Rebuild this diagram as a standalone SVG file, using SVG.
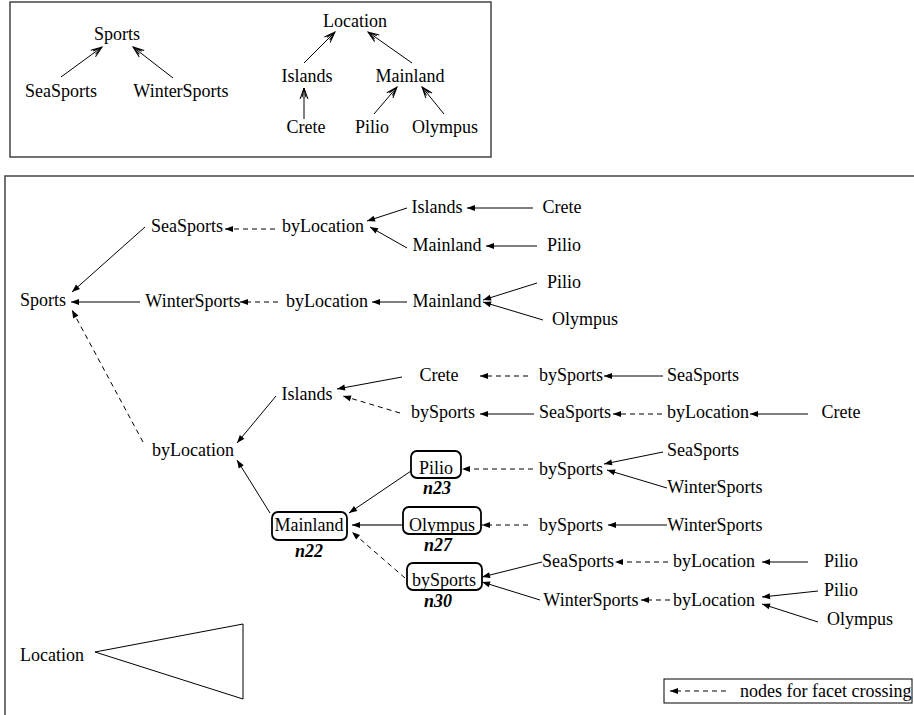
<svg xmlns="http://www.w3.org/2000/svg" width="914" height="715" viewBox="0 0 914 715">
<style>
text{font-family:"Liberation Serif","Times New Roman",serif;font-size:18px;fill:#000;text-anchor:middle}
.lb{font-weight:bold;font-style:italic}
.st{text-anchor:start}
.frame{fill:none;stroke:#444;stroke-width:1.5}
.c{fill:none;stroke:#000;stroke-width:1;marker-end:url(#ah)}
.d{fill:none;stroke:#000;stroke-width:1;stroke-dasharray:5,4;marker-end:url(#ah)}
.o{fill:none;stroke:#000;stroke-width:1;marker-end:url(#oh)}
.box{fill:none;stroke:#000;stroke-width:1.8}
</style>
<defs>
<marker id="ah" markerUnits="userSpaceOnUse" markerWidth="9" markerHeight="7" refX="8" refY="3" orient="auto" overflow="visible">
<path d="M0,0 L8,3 L0,6 z" fill="#000"/>
</marker>
<marker id="oh" markerUnits="userSpaceOnUse" markerWidth="12" markerHeight="10" refX="11" refY="4" orient="auto" overflow="visible">
<path d="M0,0 L11,4 L0,8 M1.5,2 L11,4 L1.5,6" fill="none" stroke="#000" stroke-width="1"/>
</marker>
</defs>

<rect class="frame" x="10" y="2" width="481" height="155"/>
<path class="frame" d="M5,715 V176 H914"/>

<g id="connectors">
<line class="o" x1="61" y1="77" x2="102" y2="47"/>
<line class="o" x1="173" y1="78" x2="133" y2="47"/>
<line class="o" x1="304" y1="63" x2="335" y2="32"/>
<line class="o" x1="412" y1="63" x2="368" y2="32"/>
<line class="o" x1="304" y1="119" x2="304" y2="88"/>
<line class="o" x1="374" y1="114" x2="397" y2="87"/>
<line class="o" x1="444" y1="114" x2="422" y2="87"/>

<line class="c" x1="145" y1="227" x2="72" y2="292"/>
<line class="c" x1="140" y1="302" x2="71" y2="302"/>
<line class="d" x1="143" y1="442" x2="72" y2="310"/>
<line class="d" x1="275" y1="229" x2="225" y2="229"/>
<line class="c" x1="407" y1="208" x2="367" y2="221"/>
<line class="c" x1="407" y1="248" x2="370" y2="227"/>
<line class="c" x1="533" y1="208" x2="467" y2="208"/>
<line class="c" x1="537" y1="246" x2="486" y2="246"/>
<line class="d" x1="278" y1="302" x2="240" y2="302"/>
<line class="c" x1="407" y1="302" x2="372" y2="302"/>
<line class="c" x1="537" y1="283" x2="483" y2="300"/>
<line class="c" x1="543" y1="320" x2="483" y2="302"/>
<line class="c" x1="276" y1="396" x2="237" y2="443"/>
<line class="c" x1="270" y1="513" x2="237" y2="460"/>
<line class="c" x1="402" y1="377" x2="337" y2="389"/>
<line class="d" x1="400" y1="413" x2="343" y2="396"/>
<line class="d" x1="528" y1="376" x2="480" y2="376"/>
<line class="c" x1="663" y1="376" x2="604" y2="376"/>
<line class="c" x1="534" y1="414" x2="480" y2="414"/>
<line class="d" x1="662" y1="414" x2="613" y2="414"/>
<line class="c" x1="808" y1="414" x2="750" y2="414"/>
<line class="c" x1="411" y1="471" x2="349" y2="513"/>
<line class="d" x1="533" y1="469" x2="462" y2="469"/>
<line class="c" x1="663" y1="452" x2="604" y2="464"/>
<line class="c" x1="667" y1="488" x2="607" y2="470"/>
<line class="c" x1="403" y1="525" x2="352" y2="525" style="stroke:#444;stroke-width:1.4"/>
<line class="d" x1="528" y1="525" x2="482" y2="525"/>
<line class="c" x1="667" y1="525" x2="608" y2="525"/>
<line class="d" x1="405" y1="578" x2="352" y2="532"/>
<line class="c" x1="542" y1="562" x2="482" y2="577"/>
<line class="c" x1="540" y1="600" x2="482" y2="582"/>
<line class="d" x1="668" y1="562" x2="615" y2="562"/>
<line class="c" x1="808" y1="562" x2="762" y2="562"/>
<line class="d" x1="670" y1="600" x2="641" y2="600"/>
<line class="c" x1="818" y1="591" x2="762" y2="597"/>
<line class="c" x1="818" y1="622" x2="762" y2="604"/>
</g>

<g id="top-sports">
<text x="117" y="40">Sports</text>
<text x="61" y="97">SeaSports</text>
<text x="181" y="97">WinterSports</text>
</g>
<g id="top-location">
<text x="355" y="27">Location</text>
<text x="307" y="82">Islands</text>
<text x="410" y="82">Mainland</text>
<text x="306" y="133">Crete</text>
<text x="372" y="133">Pilio</text>
<text x="445" y="133">Olympus</text>
</g>

<g id="n-sports"><text x="43" y="306">Sports</text></g>
<g id="n-seasports"><text x="187" y="232">SeaSports</text></g>
<g id="n-byloc1"><text x="323" y="232">byLocation</text></g>
<g id="n-islands1"><text x="437" y="213">Islands</text></g>
<g id="n-crete1"><text x="562" y="213">Crete</text></g>
<g id="n-mainland1"><text x="447" y="251">Mainland</text></g>
<g id="n-pilio1"><text x="564" y="251">Pilio</text></g>
<g id="n-wintersports"><text x="193" y="307">WinterSports</text></g>
<g id="n-byloc2"><text x="327" y="307">byLocation</text></g>
<g id="n-mainland2"><text x="447" y="307">Mainland</text></g>
<g id="n-pilio2"><text x="564" y="288">Pilio</text></g>
<g id="n-olympus2"><text x="585" y="325">Olympus</text></g>

<g id="n-byloc3"><text x="193" y="456">byLocation</text></g>
<g id="n-islands3"><text x="307" y="400">Islands</text></g>
<g id="n-crete3"><text x="439" y="381">Crete</text></g>
<g id="n-bysports3"><text x="571" y="381">bySports</text></g>
<g id="n-seasports3"><text x="703" y="381">SeaSports</text></g>
<g id="n-bysports4"><text x="443" y="418">bySports</text></g>
<g id="n-seasports4"><text x="575" y="418">SeaSports</text></g>
<g id="n-byloc4"><text x="708" y="418">byLocation</text></g>
<g id="n-crete4"><text x="841" y="418">Crete</text></g>

<g id="n23">
<rect class="box" x="411" y="451" width="50" height="27" rx="6"/>
<text x="436" y="474">Pilio</text>
<text class="lb" x="437" y="494">n23</text>
</g>
<g id="n-bysports5"><text x="571" y="475">bySports</text></g>
<g id="n-seasports5"><text x="703" y="456">SeaSports</text></g>
<g id="n-wintersports5"><text x="715" y="493">WinterSports</text></g>

<g id="n22">
<rect class="box" x="272" y="512" width="75" height="28" rx="6"/>
<text x="309" y="531">Mainland</text>
<text class="lb" x="309" y="557">n22</text>
</g>
<g id="n27">
<rect class="box" x="403" y="507" width="78" height="27" rx="6"/>
<text x="442" y="531">Olympus</text>
<text class="lb" x="438" y="551">n27</text>
</g>
<g id="n-bysports6"><text x="571" y="531">bySports</text></g>
<g id="n-wintersports6"><text x="715" y="531">WinterSports</text></g>

<g id="n30">
<rect class="box" x="407" y="563" width="75" height="27" rx="6"/>
<text x="444" y="586">bySports</text>
<text class="lb" x="438" y="607">n30</text>
</g>
<g id="n-seasports7"><text x="578" y="567">SeaSports</text></g>
<g id="n-byloc7"><text x="714" y="567">byLocation</text></g>
<g id="n-pilio7"><text x="841" y="567">Pilio</text></g>
<g id="n-wintersports8"><text x="591" y="606">WinterSports</text></g>
<g id="n-byloc8"><text x="714" y="606">byLocation</text></g>
<g id="n-pilio8"><text x="841" y="596">Pilio</text></g>
<g id="n-olympus8"><text x="860" y="625">Olympus</text></g>

<g id="location-tree">
<text x="52" y="661">Location</text>
<polygon points="95,652 243,624 243,699" fill="none" stroke="#000" stroke-width="1"/>
</g>

<g id="legend">
<rect x="664" y="679" width="248" height="24" fill="none" stroke="#000" stroke-width="1"/>
<line class="d" x1="726" y1="691" x2="670" y2="691"/>
<text class="st" x="740" y="697">nodes for facet crossing</text>
</g>
</svg>
